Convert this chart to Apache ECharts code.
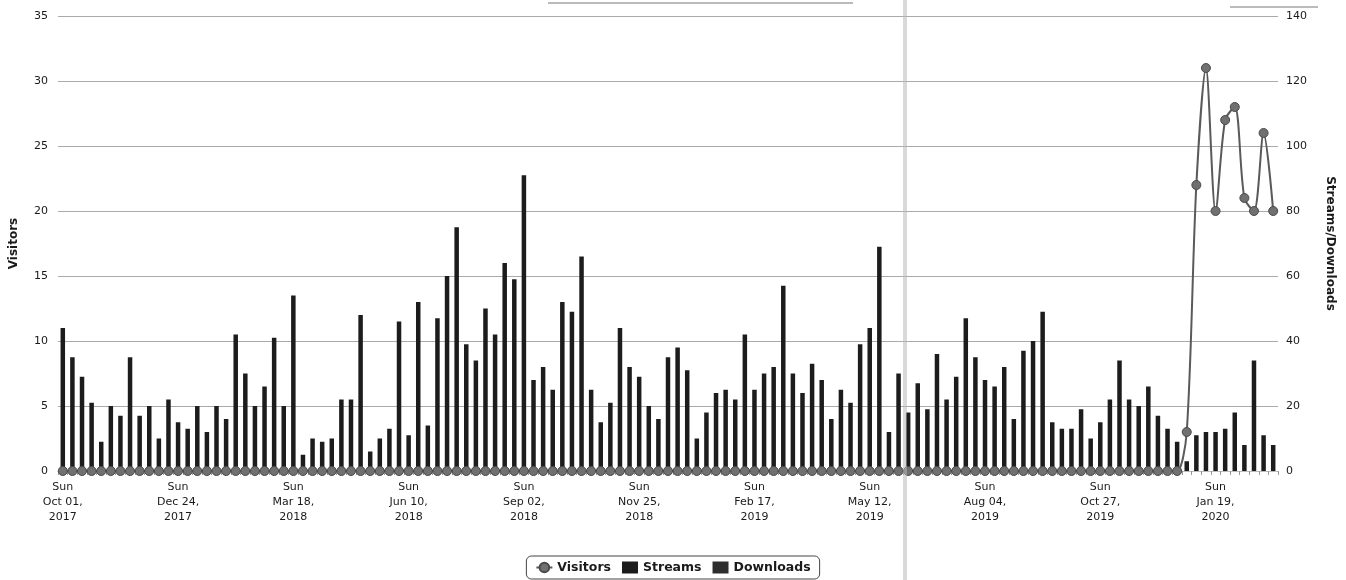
<!DOCTYPE html>
<html>
<head>
<meta charset="utf-8">
<script src="https://cdn.jsdelivr.net/npm/echarts@6/dist/echarts.min.js"></script>
<style>
html,body{margin:0;padding:0;background:#fff;}
#chart{width:1346px;height:580px;}
</style>
</head>
<body>
<div id="chart"></div>
<script>
var categories = [
"Oct 01, 2017","Oct 08, 2017","Oct 15, 2017","Oct 22, 2017","Oct 29, 2017","Nov 05, 2017","Nov 12, 2017","Nov 19, 2017","Nov 26, 2017","Dec 03, 2017","Dec 10, 2017","Dec 17, 2017","Dec 24, 2017","Dec 31, 2017",
"Jan 07, 2018","Jan 14, 2018","Jan 21, 2018","Jan 28, 2018","Feb 04, 2018","Feb 11, 2018","Feb 18, 2018","Feb 25, 2018","Mar 04, 2018","Mar 11, 2018","Mar 18, 2018","Mar 25, 2018",
"Apr 01, 2018","Apr 08, 2018","Apr 15, 2018","Apr 22, 2018","Apr 29, 2018","May 06, 2018","May 13, 2018","May 20, 2018","May 27, 2018","Jun 03, 2018","Jun 10, 2018","Jun 17, 2018","Jun 24, 2018",
"Jul 01, 2018","Jul 08, 2018","Jul 15, 2018","Jul 22, 2018","Jul 29, 2018","Aug 05, 2018","Aug 12, 2018","Aug 19, 2018","Aug 26, 2018","Sep 02, 2018","Sep 09, 2018","Sep 16, 2018","Sep 23, 2018","Sep 30, 2018",
"Oct 07, 2018","Oct 14, 2018","Oct 21, 2018","Oct 28, 2018","Nov 04, 2018","Nov 11, 2018","Nov 18, 2018","Nov 25, 2018","Dec 02, 2018","Dec 09, 2018","Dec 16, 2018","Dec 23, 2018","Dec 30, 2018",
"Jan 06, 2019","Jan 13, 2019","Jan 20, 2019","Jan 27, 2019","Feb 03, 2019","Feb 10, 2019","Feb 17, 2019","Feb 24, 2019","Mar 03, 2019","Mar 10, 2019","Mar 17, 2019","Mar 24, 2019","Mar 31, 2019",
"Apr 07, 2019","Apr 14, 2019","Apr 21, 2019","Apr 28, 2019","May 05, 2019","May 12, 2019","May 19, 2019","May 26, 2019","Jun 02, 2019","Jun 09, 2019","Jun 16, 2019","Jun 23, 2019","Jun 30, 2019",
"Jul 07, 2019","Jul 14, 2019","Jul 21, 2019","Jul 28, 2019","Aug 04, 2019","Aug 11, 2019","Aug 18, 2019","Aug 25, 2019","Sep 01, 2019","Sep 08, 2019","Sep 15, 2019","Sep 22, 2019","Sep 29, 2019",
"Oct 06, 2019","Oct 13, 2019","Oct 20, 2019","Oct 27, 2019","Nov 03, 2019","Nov 10, 2019","Nov 17, 2019","Nov 24, 2019","Dec 01, 2019","Dec 08, 2019","Dec 15, 2019","Dec 22, 2019","Dec 29, 2019",
"Jan 05, 2020","Jan 12, 2020","Jan 19, 2020","Jan 26, 2020","Feb 02, 2020","Feb 09, 2020","Feb 16, 2020","Feb 23, 2020","Mar 01, 2020"
];

var streams = [
44,35,29,21,9,20,17,35,17,20,10,22,15,13,20,12,20,16,42,30,20,26,41,20,54,5,10,9,10,22,
22,48,6,10,13,46,11,52,14,47,60,75,39,34,50,42,64,59,91,28,32,25,52,49,66,25,15,21,44,32,29,20,16,35,
38,31,10,18,24,25,22,42,25,30,32,57,30,24,33,28,16,25,21,39,44,69,12,30,18,27,19,36,22,29,47,35,28,
26,32,16,37,40,49,15,13,13,19,10,15,22,34,22,20,26,17,13,9,3,
11,12,12,13,18,8,34,11,8
];

var downloads = [
0,0,0,0,0,0,0,0,0,0,0,0,0,0,0,0,0,0,0,0,0,0,0,0,0,0,0,0,0,0,
0,0,0,0,0,0,0,0,0,0,0,0,0,0,0,0,0,0,0,0,0,0,0,0,0,0,0,0,0,0,0,0,0,0,
0,0,0,0,0,0,0,0,0,0,0,0,0,0,0,0,0,0,0,0,0,0,0,0,0,0,0,0,0,0,0,0,0,
0,0,0,0,0,0,0,0,0,0,0,0,0,0,0,0,0,0,0,0,0,
0,0,0,0,0,0,0,0,0
];

var visitors = [
0,0,0,0,0,0,0,0,0,0,0,0,0,0,0,0,0,0,0,0,0,0,0,0,0,0,0,0,0,0,
0,0,0,0,0,0,0,0,0,0,0,0,0,0,0,0,0,0,0,0,0,0,0,0,0,0,0,0,0,0,0,0,0,0,
0,0,0,0,0,0,0,0,0,0,0,0,0,0,0,0,0,0,0,0,0,0,0,0,0,0,0,0,0,0,0,0,0,
0,0,0,0,0,0,0,0,0,0,0,0,0,0,0,0,0,0,0,0,3,
22,31,20,27,28,21,20,26,20
];

var visitorTicks = [0,5,10,15,20,25,30,35];
var streamTicks = [0,20,40,60,80,100,120,140];

var FONT = 'DejaVu Sans';
var chart = echarts.init(document.getElementById('chart'), null, {renderer:'canvas'});
chart.setOption({
  animation:false,
  backgroundColor:'#ffffff',
  textStyle:{fontFamily:FONT},
  grid:{left:58, right:68, top:16, bottom:109, containLabel:false},
  legend:{
    data:[{name:'Visitors'},{name:'Streams', icon:'rect'},{name:'Downloads', icon:'rect'}],
    bottom:1, left:'center',
    borderColor:'#444', borderWidth:1, borderRadius:5,
    padding:[5,9,5,9], itemGap:11, itemWidth:16, itemHeight:12,
    textStyle:{fontFamily:FONT, fontSize:12.5, fontWeight:'bold', color:'#1a1a1a'}
  },
  xAxis:{
    type:'category', data:categories, boundaryGap:true,
    axisLine:{show:true, lineStyle:{color:'#bbb'}},
    axisTick:{show:true, interval:0, length:4, lineStyle:{color:'#999'}},
    axisLabel:{
      interval:11, margin:9, fontSize:11, lineHeight:15, color:'#1a1a1a', fontFamily:FONT,
      formatter:function(v){ return 'Sun\n' + v.replace(', ', ',\n'); }
    },
    splitLine:{show:false}
  },
  yAxis:[
    {
      type:'value', min:visitorTicks[0], max:visitorTicks[visitorTicks.length-1], interval:5,
      name:'Visitors', nameLocation:'middle', nameGap:38, nameRotate:90,
      nameTextStyle:{fontFamily:FONT, fontSize:12, fontWeight:'bold', color:'#1a1a1a'},
      axisLine:{show:false}, axisTick:{show:false},
      axisLabel:{fontSize:11, color:'#1a1a1a', margin:10, fontFamily:FONT},
      splitLine:{show:true, lineStyle:{color:'#aaa', width:1}}
    },
    {
      type:'value', min:streamTicks[0], max:streamTicks[streamTicks.length-1], interval:20,
      name:'Streams/Downloads', nameLocation:'middle', nameGap:46, nameRotate:-90,
      nameTextStyle:{fontFamily:FONT, fontSize:12, fontWeight:'bold', color:'#1a1a1a'},
      position:'right',
      axisLine:{show:false}, axisTick:{show:false},
      axisLabel:{fontSize:11, color:'#1a1a1a', margin:8, fontFamily:FONT},
      splitLine:{show:false}
    }
  ],
  series:[
    {
      name:'Streams', type:'bar', yAxisIndex:1, stack:'sd', data:streams,
      barWidth:4.5, itemStyle:{color:'#1c1c1c'}, z:2
    },
    {
      name:'Downloads', type:'bar', yAxisIndex:1, stack:'sd', data:downloads,
      barWidth:4.5, itemStyle:{color:'#2e2e2e'}, z:2
    },
    {
      name:'Visitors', type:'line', yAxisIndex:0, data:visitors,
      smooth:0.3, symbol:'circle', symbolSize:9, showSymbol:true, showAllSymbol:true,
      lineStyle:{color:'#5a5a5a', width:2},
      itemStyle:{color:'#707070', borderColor:'#4a4a4a', borderWidth:1},
      z:3
    }
  ],
  graphic:[
    {type:'rect', shape:{x:903, y:0, width:4, height:580}, style:{fill:'rgba(185,185,185,0.55)'}, z:100, silent:true},
    {type:'line', shape:{x1:548, y1:3, x2:853, y2:3}, style:{stroke:'#777', lineWidth:1}, silent:true},
    {type:'line', shape:{x1:1230, y1:7, x2:1318, y2:7}, style:{stroke:'#777', lineWidth:1}, silent:true}
  ]
});
</script>
</body>
</html>
